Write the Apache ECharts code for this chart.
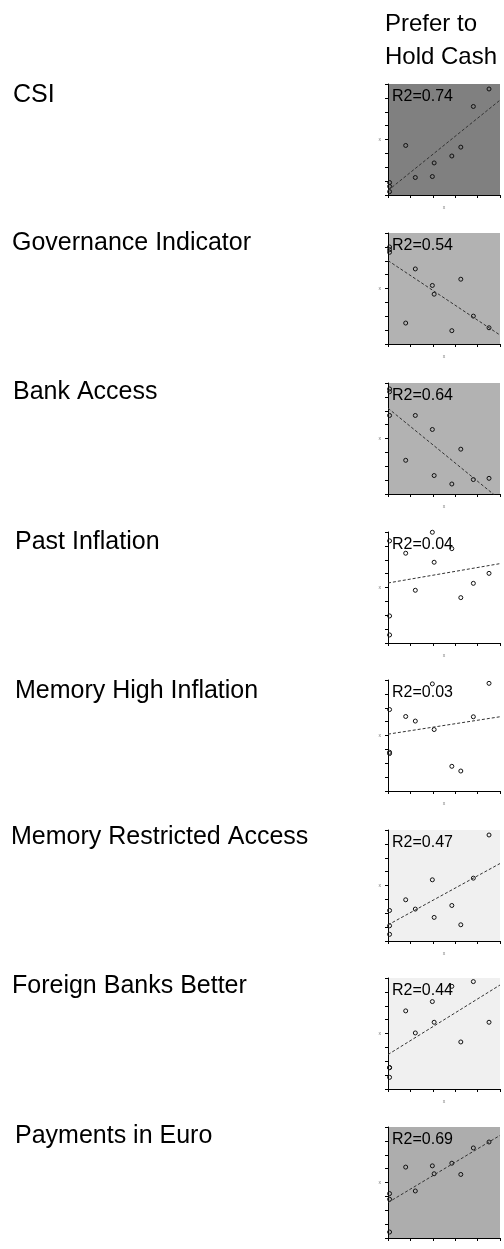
<!DOCTYPE html>
<html><head><meta charset="utf-8">
<script src="https://cdn.jsdelivr.net/npm/echarts@6/dist/echarts.min.js"></script>
<style>html,body{margin:0;padding:0;background:#fff}#c{width:504px;height:1249px}</style>
</head><body><div id="c"></div>
<script>
// ---- data ----
const headerLines = ['Prefer to', 'Hold Cash'];
const rowLabels = ['CSI', 'Governance Indicator', 'Bank Access', 'Past Inflation',
  'Memory High Inflation', 'Memory Restricted Access', 'Foreign Banks Better', 'Payments in Euro'];
const r2Labels = ['R2=0.74', 'R2=0.54', 'R2=0.64', 'R2=0.04', 'R2=0.03', 'R2=0.47', 'R2=0.44', 'R2=0.69'];
const xValues = [0.07, 0.07, 0.07, 0.79, 1.22, 1.98, 2.06, 2.85, 3.25, 3.81, 4.51];
const yCSI = [0.90, 0.62, 0.24, 3.57, 1.26, 1.33, 2.31, 2.81, 3.45, 6.38, 7.64];
const yGovernance = [6.99, 6.61, 6.80, 1.51, 5.41, 4.22, 3.59, 0.96, 4.67, 2.01, 1.17];
const yBankAccess = [7.57, 7.37, 5.66, 2.43, 5.66, 4.65, 1.33, 0.72, 3.23, 1.04, 1.13];
const yPastInflation = [7.36, 1.95, 0.58, 6.47, 3.80, 7.98, 5.82, 6.80, 3.27, 4.30, 5.02];
const yMemoryHighInflation = [5.87, 2.79, 2.70, 5.37, 5.04, 7.72, 4.43, 1.78, 1.44, 5.35, 7.76];
const yMemoryRestricted = [2.20, 1.10, 0.48, 2.97, 2.30, 4.41, 1.70, 2.56, 1.17, 4.53, 7.64];
const yForeignBanks = [1.54, 0.84, 1.54, 5.63, 4.04, 6.30, 4.81, 7.40, 3.39, 7.74, 4.81];
const yPaymentsEuro = [3.20, 2.79, 0.43, 5.11, 3.39, 5.20, 4.63, 5.39, 4.58, 6.49, 6.92];
const xRange = [0, 5];
const yRange = [0, 8];

// ---- layout / style ----
const panels = [yCSI, yGovernance, yBankAccess, yPastInflation, yMemoryHighInflation,
  yMemoryRestricted, yForeignBanks, yPaymentsEuro];
const gridTops = [84, 233, 383, 532, 680, 830, 978, 1127];
const bgColors = ['#808080', '#b2b2b2', '#b2b2b2', '#ffffff', '#ffffff', '#f0f0f0', '#f0f0f0', '#adadad'];
const labelX = [13, 12, 13, 15, 15, 11, 12, 15];
const labelMid = [95, 243, 392, 542, 691, 837.5, 986.5, 1136];
const FONT = 'Liberation Sans, Arial, Helvetica, sans-serif';
const GL = 388, GW = 112, GH = 111;

function fit(xs, ys) {
  const n = xs.length;
  const mx = xs.reduce((a, b) => a + b, 0) / n, my = ys.reduce((a, b) => a + b, 0) / n;
  let sxy = 0, sxx = 0;
  for (let i = 0; i < n; i++) { sxy += (xs[i] - mx) * (ys[i] - my); sxx += (xs[i] - mx) ** 2; }
  const m = sxy / sxx; return { m, b: my - m * mx };
}

const grid = [], xAxis = [], yAxis = [], series = [], graphic = [];
headerLines.forEach((t, i) => graphic.push({
  type: 'text', x: 385, y: [24.5, 57][i],
  style: { text: t, font: '24px ' + FONT, fill: '#000', textAlign: 'left', textVerticalAlign: 'middle', align: 'left', verticalAlign: 'middle' }
}));
panels.forEach((ys, i) => {
  grid.push({ left: GL, top: gridTops[i], width: GW, height: GH, show: true, backgroundColor: bgColors[i], borderWidth: 0, containLabel: false, outerBoundsMode: 'none' });
  const axCommon = {
    gridIndex: i, type: 'value', interval: 1,
    axisLine: { show: true, onZero: false, lineStyle: { color: '#000', width: 1 } },
    axisTick: { show: true, inside: false, length: 3, lineStyle: { color: '#000', width: 1 } },
    axisLabel: { show: false }, splitLine: { show: false },
    name: 'x', nameLocation: 'middle', nameRotate: 0,
    nameTextStyle: { fontSize: 5, color: '#777', fontFamily: FONT }
  };
  xAxis.push(Object.assign({}, axCommon, { min: xRange[0], max: xRange[1], nameGap: 10 }));
  yAxis.push(Object.assign({}, axCommon, { min: yRange[0], max: yRange[1], nameGap: 7 }));
  const { m, b } = fit(xValues, ys);
  series.push({
    type: 'line', xAxisIndex: i, yAxisIndex: i, clip: true, symbol: 'none', silent: true,
    data: [[xRange[0], b + m * xRange[0]], [xRange[1], b + m * xRange[1]]],
    lineStyle: { color: '#333', width: 1, type: [3, 2] }, animation: false
  });
  series.push({
    type: 'scatter', xAxisIndex: i, yAxisIndex: i, symbol: 'circle', symbolSize: 4,
    data: xValues.map((x, k) => [x, ys[k]]),
    itemStyle: { color: 'rgba(0,0,0,0)', borderColor: '#111', borderWidth: 1, opacity: 1 },
    animation: false
  });
  graphic.push({
    type: 'text', x: labelX[i], y: labelMid[i],
    style: { text: rowLabels[i], font: '25px ' + FONT, fill: '#000', textAlign: 'left', textVerticalAlign: 'middle', align: 'left', verticalAlign: 'middle' }
  });
  graphic.push({
    type: 'text', x: GL + 4, y: gridTops[i] + 12.5, z: 100,
    style: { text: r2Labels[i], font: '16px ' + FONT, fill: '#000', textAlign: 'left', textVerticalAlign: 'middle', align: 'left', verticalAlign: 'middle' }
  });
});

const chart = echarts.init(document.getElementById('c'), null, { renderer: 'canvas' });
chart.setOption({ backgroundColor: '#fff', animation: false, grid, xAxis, yAxis, series, graphic });
</script></body></html>
